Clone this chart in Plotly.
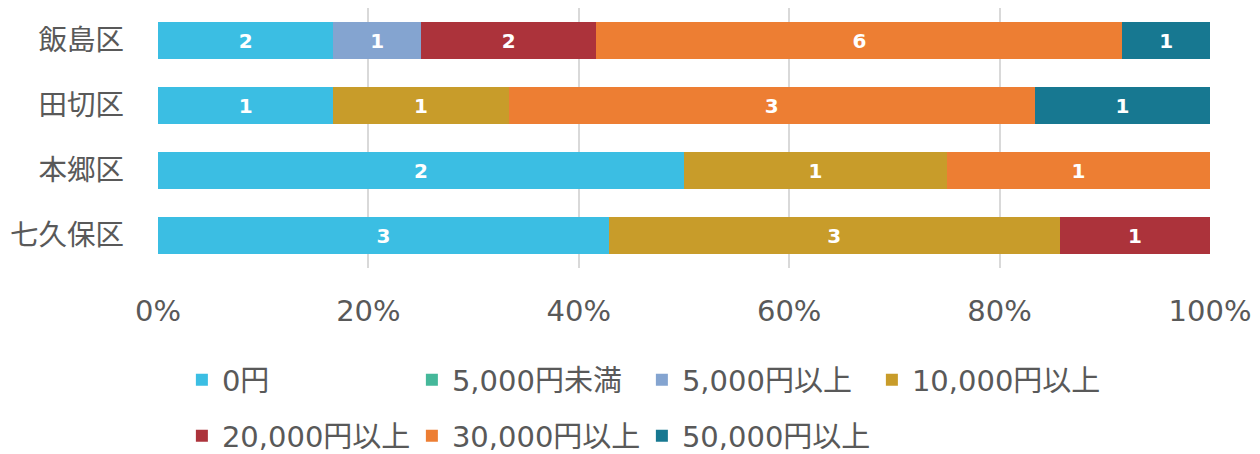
import plotly.graph_objects as go

categories = ["飯島区", "田切区", "本郷区", "七久保区"]
series_names = ["0円", "5,000円未満", "5,000円以上", "10,000円以上",
                "20,000円以上", "30,000円以上", "50,000円以上"]
v_0 = [2, 1, 2, 3]
v_lt5000 = [0, 0, 0, 0]
v_5000 = [1, 0, 0, 0]
v_10000 = [0, 1, 1, 3]
v_20000 = [2, 0, 0, 1]
v_30000 = [6, 3, 1, 0]
v_50000 = [1, 1, 0, 0]
series_values = [v_0, v_lt5000, v_5000, v_10000, v_20000, v_30000, v_50000]
colors = ["#3BBEE3", "#45B89A", "#84A4D0", "#C89C2A", "#AC333B", "#ED7E33", "#177891"]
tick_vals = [0, 20, 40, 60, 80, 100]
tick_text = ["0%", "20%", "40%", "60%", "80%", "100%"]

FONT = "DejaVu Sans, Noto Sans CJK JP, sans-serif"
TXT = "#595959"

fig = go.Figure()
for i, (name, vals, col) in enumerate(zip(series_names, series_values, colors)):
    fig.add_trace(go.Bar(
        y=categories, x=vals, name=name, orientation="h",
        marker=dict(color=col, line=dict(width=0)),
        text=[str(v) if v else "" for v in vals],
        textposition="inside", insidetextanchor="middle", textangle=0,
        textfont=dict(family="DejaVu Sans, sans-serif", size=20, color="white", weight="bold"),
        legend="legend" if i < 4 else "legend2",
        hoverinfo="skip",
    ))

leg_common = dict(orientation="h", xref="container", yref="container",
                  x=0.138, xanchor="left", yanchor="middle",
                  entrywidth=185, entrywidthmode="pixels",
                  font=dict(size=29, color=TXT), traceorder="normal")

fig.update_layout(
    width=1260, height=454,
    barmode="stack", barnorm="percent", bargap=0.44,
    paper_bgcolor="white", plot_bgcolor="white",
    margin=dict(l=150, r=58, t=0, b=194),
    font=dict(family=FONT, size=28, color=TXT),
    xaxis=dict(range=[0, 100], tickvals=tick_vals, ticktext=tick_text,
               showgrid=True, gridcolor="#D9D9D9", gridwidth=1.5,
               zeroline=False, showline=False, ticklabelstandoff=23,
               tickfont=dict(size=29, color=TXT)),
    yaxis=dict(autorange="reversed", showgrid=False, showline=False,
               ticklabelstandoff=33, tickfont=dict(size=28.5, color=TXT)),
    legend=dict(leg_common, y=1 - 372 / 454),
    legend2=dict(leg_common, y=1 - 428 / 454),
)

fig.write_html("out.html")
